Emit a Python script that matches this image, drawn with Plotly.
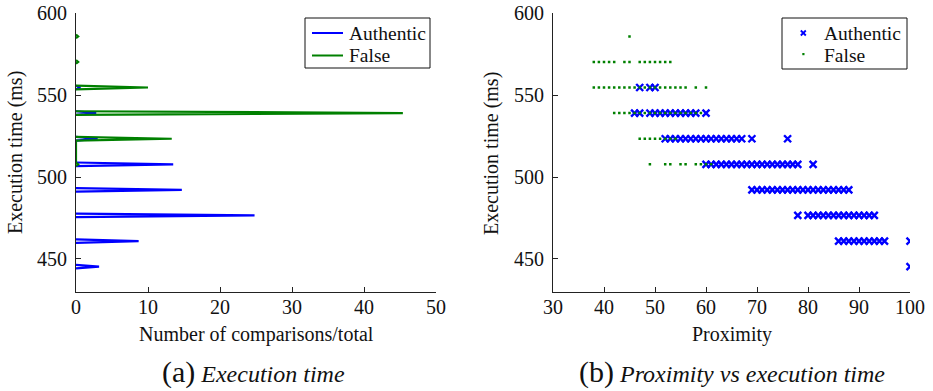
import plotly.graph_objects as go

# ---------------- data ----------------
# (a) Execution-time histogram: peak position (ms) and share of comparisons (%)
auth_peak_time = [445.3, 460.9, 476.6, 492.2, 507.8, 523.4, 539.1, 554.7]
auth_peak_pct = [3.2, 8.7, 24.8, 14.7, 13.5, 3.0, 2.8, 0.6]
false_peak_time = [507.8, 523.4, 539.1, 554.7, 570.3, 585.9]
false_peak_pct = [0.3, 13.3, 45.4, 10.0, 0.3, 0.3]
false_peak_joined = [True, False, False, False, False]  # curve continues to next peak

# (b) Proximity vs execution time, one list of proximity values per time level
row_times = [445.3, 460.9, 476.6, 492.2, 507.8, 523.4, 539.1, 554.7, 570.3, 585.9]

auth_445 = [100]
auth_461 = [86, 87, 88, 89, 90, 91, 92, 93, 94, 95, 100]
auth_477 = [78, 80, 81, 82, 83, 84, 85, 86, 87, 88, 89, 90, 91, 92, 93]
auth_492 = [69, 70, 71, 72, 73, 74, 75, 76, 77, 78, 79, 80, 81, 82, 83, 84, 85, 86, 87, 88]
auth_508 = [60, 61, 62, 63, 64, 65, 66, 67, 68, 69, 70, 71, 72, 73, 74, 75, 76, 77, 78, 81]
auth_523 = [52, 53, 54, 55, 56, 57, 58, 59, 60, 61, 62, 63, 64, 65, 66, 67, 69, 76]
auth_539 = [46, 47, 49, 50, 51, 52, 53, 54, 55, 56, 57, 58, 60]
auth_555 = [47, 49, 50]
auth_570 = []
auth_586 = []

false_445 = []
false_461 = []
false_477 = []
false_492 = []
false_508 = [49, 52, 53, 55, 56, 58, 59, 60, 61]
false_523 = [47, 48, 49, 50, 51, 52, 53, 54]
false_539 = [42, 43, 44, 45, 46, 47, 48, 49, 50, 51, 52, 53, 54, 55, 56, 57, 58, 59]
false_555 = [38, 39, 40, 41, 42, 43, 44, 45, 46, 47, 48, 49, 50, 51, 52, 53, 54, 55, 56, 58, 60]
false_570 = [38, 39, 40, 41, 42, 44, 45, 47, 48, 49, 50, 51, 52, 53]
false_586 = [45]

auth_rows = [auth_445, auth_461, auth_477, auth_492, auth_508, auth_523, auth_539, auth_555, auth_570, auth_586]
false_rows = [false_445, false_461, false_477, false_492, false_508, false_523, false_539, false_555, false_570, false_586]

series_names = ["Authentic", "False"]

# ---------------- helpers ----------------
W, H = 933, 391
BLUE = "#0000FF"
GREEN = "#008000"
INK = "#111111"
FONT = "Liberation Serif"


def spike_path(times, pcts, joined=None, half=1.1):
    xs, ys = [], []
    for i, (t, p) in enumerate(zip(times, pcts)):
        xs += [0, p, 0]
        ys += [t - half, t, t + half]
        if not (joined and i < len(joined) and joined[i]):
            xs.append(None)
            ys.append(None)
    return xs, ys


def flatten(rows):
    xs, ys = [], []
    for t, r in zip(row_times, rows):
        xs += r
        ys += [t] * len(r)
    return xs, ys


def px(x):
    return x / W


def py(y):
    return 1 - y / H


fig = go.Figure()

ax, ay = spike_path(auth_peak_time, auth_peak_pct)
fx, fy = spike_path(false_peak_time, false_peak_pct, false_peak_joined)
fig.add_trace(go.Scatter(x=ax, y=ay, mode="lines", name=series_names[0],
                         line=dict(color=BLUE, width=2.2), xaxis="x", yaxis="y"))
fig.add_trace(go.Scatter(x=fx, y=fy, mode="lines", name=series_names[1],
                         line=dict(color=GREEN, width=2.2), xaxis="x", yaxis="y"))

sx, sy = flatten(auth_rows)
gx, gy = flatten(false_rows)
fig.add_trace(go.Scatter(x=sx, y=sy, mode="markers", name=series_names[0],
                         marker=dict(symbol="x-thin", size=7, color=BLUE,
                                     line=dict(color=BLUE, width=2.4)),
                         xaxis="x2", yaxis="y2"))
fig.add_trace(go.Scatter(x=gx, y=gy, mode="markers", name=series_names[1],
                         marker=dict(symbol="square", size=2.5, color=GREEN,
                                     line=dict(width=0)),
                         xaxis="x2", yaxis="y2"))

axis_common = dict(showline=True, linecolor="#222", linewidth=1, ticks="inside",
                   ticklen=5, tickcolor="#222", showgrid=False, zeroline=False,
                   mirror=False, automargin=False,
                   tickfont=dict(family=FONT, size=20, color=INK))

ydom = [py(291.7), py(13.3)]
fig.update_layout(
    width=W, height=H, margin=dict(l=0, r=0, t=0, b=0),
    paper_bgcolor="white", plot_bgcolor="white",
    font=dict(family=FONT, size=20, color=INK),
    showlegend=False,
    xaxis=dict(domain=[px(76), px(436)], range=[0, 50], dtick=10, tick0=0,
               anchor="y", ticklabelstandoff=-3, **axis_common),
    yaxis=dict(domain=ydom, range=[430, 600], dtick=50, tick0=0,
               anchor="x", ticklabelstandoff=4, **axis_common),
    xaxis2=dict(domain=[px(553), px(910)], range=[30, 100], dtick=10, tick0=0,
                anchor="y2", ticklabelstandoff=-3, **axis_common),
    yaxis2=dict(domain=ydom, range=[430, 600], dtick=50, tick0=0,
                anchor="x2", ticklabelstandoff=4, **axis_common),
)

# ---- legends (boxed, MATLAB style) ----
shapes = [
    # left legend box and line samples
    dict(type="rect", x0=px(305), x1=px(430), y0=py(68), y1=py(18),
         line=dict(color=INK, width=1), fillcolor="white"),
    dict(type="line", x0=px(312), x1=px(343), y0=py(33), y1=py(33),
         line=dict(color=BLUE, width=2)),
    dict(type="line", x0=px(312), x1=px(343), y0=py(55.5), y1=py(55.5),
         line=dict(color=GREEN, width=2)),
    # right legend box and marker samples
    dict(type="rect", x0=px(782), x1=px(907), y0=py(69), y1=py(18),
         line=dict(color=INK, width=1), fillcolor="white"),
    dict(type="line", x0=px(800.8), x1=px(805.8), y0=py(30.5), y1=py(35.5),
         line=dict(color=BLUE, width=1.8)),
    dict(type="line", x0=px(800.8), x1=px(805.8), y0=py(35.5), y1=py(30.5),
         line=dict(color=BLUE, width=1.8)),
    dict(type="rect", x0=px(802.3), x1=px(804.5), y0=py(55.2), y1=py(53),
         line=dict(width=0), fillcolor=GREEN),
]
for s in shapes:
    fig.add_shape(xref="paper", yref="paper", layer="above", **s)

ann = [
    dict(text="Execution time (ms)", x=px(16), y=py(153), textangle=-90),
    dict(text="Execution time (ms)", x=px(492), y=py(153), textangle=-90),
    dict(text="Number of comparisons/total", x=px(256), y=py(334)),
    dict(text="Proximity", x=px(731.5), y=py(334)),
    dict(text="<span style='font-size:30px'>(a)</span> <i>Execution time</i>",
         x=px(254), y=py(372), font=dict(family=FONT, size=24, color=INK)),
    dict(text="<span style='font-size:30px'>(b)</span> <i>Proximity vs execution time</i>",
         x=px(732), y=py(372), font=dict(family=FONT, size=24, color=INK)),
    # legend labels
    dict(text=series_names[0], x=px(347), y=py(33), xanchor="left",
         font=dict(family=FONT, size=19.5, color=INK)),
    dict(text=series_names[1], x=px(347), y=py(55.5), xanchor="left",
         font=dict(family=FONT, size=19.5, color=INK)),
    dict(text=series_names[0], x=px(822), y=py(33), xanchor="left",
         font=dict(family=FONT, size=19.5, color=INK)),
    dict(text=series_names[1], x=px(822), y=py(55.5), xanchor="left",
         font=dict(family=FONT, size=19.5, color=INK)),
]
for a in ann:
    a.setdefault("font", dict(family=FONT, size=20, color=INK))
    a.setdefault("xanchor", "center")
    fig.add_annotation(xref="paper", yref="paper", showarrow=False,
                       yanchor="middle", **a)

fig.write_html("out.html", config={"displayModeBar": False},
               post_script="document.body.style.margin='0';document.body.style.overflow='hidden';")
